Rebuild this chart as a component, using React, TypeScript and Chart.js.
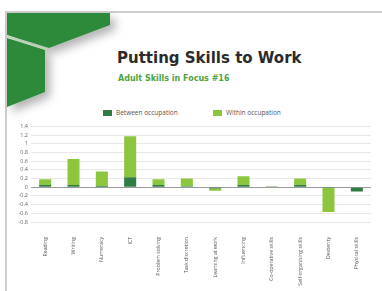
import React, { useEffect, useRef } from "react";
import { Chart, registerables } from "chart.js";

Chart.register(...registerables);

const categories = [
  "Reading",
  "Writing",
  "Numeracy",
  "ICT",
  "Problem solving",
  "Task discretion",
  "Learning at work",
  "Influencing",
  "Co-operative skills",
  "Self-organising skills",
  "Dexterity",
  "Physical skills",
];
const betweenOccupation = [0.05, 0.05, 0.03, 0.23, 0.05, 0.02, -0.03, 0.05, 0.005, 0.05, -0.02, -0.1];
const withinOccupation = [0.13, 0.6, 0.33, 0.94, 0.13, 0.18, -0.05, 0.2, 0.005, 0.15, -0.55, 0];
const seriesNames = ["Between occupation", "Within occupation"];
const title = "Putting Skills to Work";
const subtitle = "Adult Skills in Focus #16";

const DARK = "#2f7d45";
const LIGHT = "#8cc63f";

export default function App() {
  const ref = useRef<HTMLCanvasElement | null>(null);
  useEffect(() => {
    if (!ref.current) return;
    const chart = new Chart(ref.current, {
      type: "bar",
      data: {
        labels: categories,
        datasets: [
          { label: seriesNames[0], data: betweenOccupation, backgroundColor: DARK, barPercentage: 0.5, categoryPercentage: 0.85 },
          { label: seriesNames[1], data: withinOccupation, backgroundColor: LIGHT, barPercentage: 0.5, categoryPercentage: 0.85 },
        ],
      },
      options: {
        animation: false,
        responsive: false,
        maintainAspectRatio: false,
        layout: { padding: { left: 0, right: 11, top: 3, bottom: 0 } },
        plugins: {
          legend: { display: false },
          tooltip: { enabled: false },
        },
        scales: {
          x: {
            stacked: true,
            grid: { display: false },
            border: { display: false },
            afterFit: (s: any) => {
              s.height = 69;
            },
            ticks: {
              minRotation: 90,
              maxRotation: 90,
              autoSkip: false,
              color: "#555",
              padding: 7,
              font: { family: "Open Sans", size: 5.2 },
            },
          },
          y: {
            stacked: true,
            min: -0.8,
            max: 1.4,
            afterFit: (s: any) => {
              s.width = 23;
            },
            ticks: {
              stepSize: 0.2,
              autoSkip: false,
              color: "#666",
              padding: 3,
              font: { family: "Open Sans", size: 5.5 },
              callback: (v: any) => String(Math.round(Number(v) * 10) / 10),
            },
            grid: {
              drawTicks: false,
              color: (ctx: any) => (ctx.tick && ctx.tick.value === 0 ? "#9a9a9a" : "#e8e8e8"),
              lineWidth: 1,
            },
            border: { display: false },
          },
        },
      },
    });
    return () => chart.destroy();
  }, []);

  const legendText: React.CSSProperties = { position: "absolute", top: 108, fontSize: 6.5, color: "#555", whiteSpace: "nowrap", fontFamily: "Open Sans" };

  return (
    <div style={{ position: "absolute", left: 0, top: 0, width: 382, height: 291, background: "#fff", overflow: "hidden", fontFamily: "Open Sans" }}>
      <div style={{ position: "absolute", left: 5, top: 11, width: 377, height: 2, background: "#cfcfcf" }} />
      <div style={{ position: "absolute", left: 5, top: 11, width: 2, height: 280, background: "#cfcfcf" }} />
      <svg width={140} height={125} style={{ position: "absolute", left: 0, top: 0 }}>
        <defs>
          <filter id="sh" x="-20%" y="-20%" width="160%" height="160%">
            <feDropShadow dx="5" dy="5" stdDeviation="5" floodColor="#000" floodOpacity="0.3" />
          </filter>
        </defs>
        <g filter="url(#sh)">
          <polygon points="7,13 110,13 110,25 49,48 7,35" fill="#2e8a3a" />
          <polygon points="7,38 45,50 45,92 7,107" fill="#2e8a3a" />
        </g>
        <line x1={7} y1={36.5} x2={47} y2={49.5} stroke="#b9d8b0" strokeWidth={1.5} />
      </svg>
      <div style={{ position: "absolute", left: 117, top: 49, fontSize: 15, fontWeight: 700, color: "#2b2b2b", whiteSpace: "nowrap", fontFamily: "DejaVu Sans" }}>{title}</div>
      <div style={{ position: "absolute", left: 118, top: 74, fontSize: 8, fontWeight: 700, color: "#4fa43f", whiteSpace: "nowrap", fontFamily: "DejaVu Sans" }}>{subtitle}</div>
      <div style={{ position: "absolute", left: 103, top: 109.5, width: 9, height: 6, background: DARK }} />
      <div style={{ ...legendText, left: 116 }}>{seriesNames[0]}</div>
      <div style={{ position: "absolute", left: 213, top: 109.5, width: 9, height: 6, background: LIGHT }} />
      <div style={{ ...legendText, left: 226 }}>{seriesNames[1]}</div>
      <canvas ref={ref} width={374} height={171} style={{ position: "absolute", left: 8, top: 120, width: 374, height: 171 }} />
    </div>
  );
}
